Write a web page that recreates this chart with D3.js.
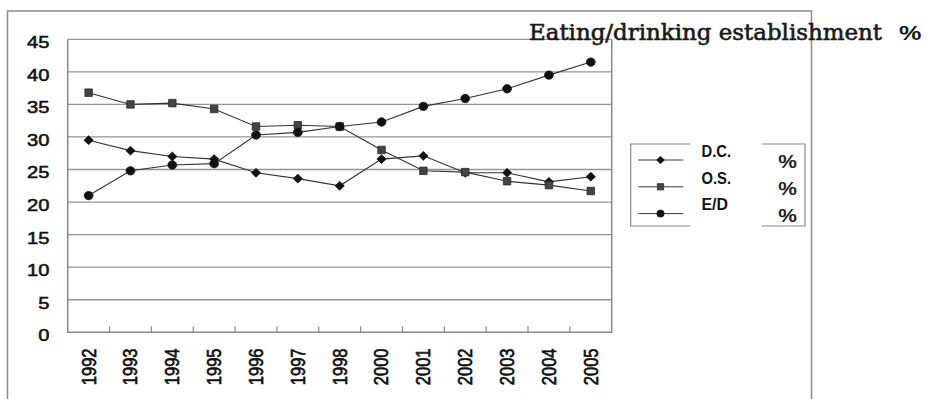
<!DOCTYPE html>
<html>
<head>
<meta charset="utf-8">
<script src="https://cdn.jsdelivr.net/npm/d3@7"></script>
<style>
  html, body { margin: 0; padding: 0; background: #fff; }
  svg { display: block; }
</style>
</head>
<body>
<svg id="chart" width="930" height="399"></svg>
<script>
// Share of establishments by category, 1992–2005 (1999 not surveyed)
const years = ["1992", "1993", "1994", "1995", "1996", "1997", "1998", "2000", "2001", "2002", "2003", "2004", "2005"];
const dcValues = [29.5, 27.9, 27.0, 26.6, 24.5, 23.6, 22.5, 26.6, 27.1, 24.5, 24.5, 23.1, 23.9];
const osValues = [36.8, 35.0, 35.2, 34.3, 31.6, 31.8, 31.6, 28.0, 24.8, 24.6, 23.2, 22.6, 21.7];
const edValues = [21.0, 24.8, 25.7, 25.9, 30.3, 30.7, 31.6, 32.3, 34.7, 35.9, 37.4, 39.5, 41.5];
const yTicks = [0, 5, 10, 15, 20, 25, 30, 35, 40, 45];
const seriesNames = ["D.C.", "O.S.", "E/D"];
const seriesShapes = ["diamond", "square", "circle"];
const titleText = "Eating/drinking establishment";
const unitText = "%";

const series = seriesNames.map((name, i) => ({
  name,
  shape: seriesShapes[i],
  values: [dcValues, osValues, edValues][i]
}));

const svg = d3.select("#chart");
const SX = 1.2;               // type is set slightly wide
const sansFont = "'Liberation Sans', Arial, sans-serif";
const plot = { left: 67.7, top: 39.3, right: 611.7, bottom: 332.3 };

const x = d3.scaleBand().domain(years).range([plot.left, plot.right]).paddingInner(0).paddingOuter(0);
const y = d3.scaleLinear().domain([0, 45]).range([plot.bottom, plot.top]);
const cx = d => x(d) + x.bandwidth() / 2;

// marker outlines centred on the origin
function markerPath(shape, s) {
  if (shape === "diamond") {
    return `M0,${-s}L${s * 1.05},0L0,${s}L${-s * 1.05},0Z`;
  }
  if (shape === "square") {
    const h = s * 0.85;
    return `M${-h},${-h}H${h}V${h}H${-h}Z`;
  }
  return `M${-s},0A${s},${s * 0.95} 0 1,0 ${s},0A${s},${s * 0.95} 0 1,0 ${-s},0Z`;
}
const markerFill = { diamond: "#111", square: "#444", circle: "#111" };
const markerStroke = { diamond: "#111", square: "#2a2a2a", circle: "#111" };

// outer frame
svg.append("path")
  .attr("d", "M7.5,400V11H811.5V400")
  .attr("fill", "none")
  .attr("stroke", "#8c8c8c")
  .attr("stroke-width", 1.5);

// horizontal gridlines
svg.append("g").selectAll("line")
  .data(yTicks.filter(t => t > 0))
  .join("line")
  .attr("x1", plot.left).attr("x2", plot.right)
  .attr("y1", d => y(d)).attr("y2", d => y(d))
  .attr("stroke", "#959595").attr("stroke-width", 1.3);

// plot frame: left, right and base
svg.append("path")
  .attr("d", `M${plot.left},${plot.top}V${plot.bottom}H${plot.right}V${plot.top}`)
  .attr("fill", "none")
  .attr("stroke", "#888")
  .attr("stroke-width", 1.5);

// category divider ticks on the base line, pointing up
svg.append("g").selectAll("line")
  .data(years.slice(1))
  .join("line")
  .attr("x1", d => x(d)).attr("x2", d => x(d))
  .attr("y1", plot.bottom).attr("y2", plot.bottom - 6)
  .attr("stroke", "#888").attr("stroke-width", 1.2);

// y tick labels
svg.append("g").selectAll("text")
  .data(yTicks)
  .join("text")
  .attr("transform", d => `translate(49.5,${y(d) + 3}) scale(${SX},1)`)
  .attr("text-anchor", "end")
  .attr("dy", "0.35em")
  .attr("font-family", sansFont)
  .attr("font-size", 16.8)
  .attr("fill", "#111")
  .attr("stroke", "#111")
  .attr("stroke-width", 0.55)
  .text(d => d);

// x tick labels, rotated
svg.append("g").selectAll("text")
  .data(years)
  .join("text")
  .attr("transform", d => `translate(${cx(d)},348.5) scale(${SX},1) rotate(-90)`)
  .attr("text-anchor", "end")
  .attr("dy", "0.35em")
  .attr("font-family", sansFont)
  .attr("font-size", 16.5)
  .attr("fill", "#111")
  .attr("stroke", "#111")
  .attr("stroke-width", 0.55)
  .text(d => d);

// series lines and markers
const line = d3.line().x((v, i) => cx(years[i])).y(v => y(v));
series.forEach(s => {
  svg.append("path")
    .attr("d", line(s.values))
    .attr("fill", "none")
    .attr("stroke", "#333")
    .attr("stroke-width", 1.1);
});
series.forEach(s => {
  svg.append("g").selectAll("path")
    .data(s.values)
    .join("path")
    .attr("transform", (v, i) => `translate(${cx(years[i])},${y(v)})`)
    .attr("d", markerPath(s.shape, 4.4))
    .attr("fill", markerFill[s.shape])
    .attr("stroke", markerStroke[s.shape])
    .attr("stroke-width", 0.8);
});

// title
svg.append("text")
  .attr("x", 529)
  .attr("y", 39.5)
  .attr("font-family", "'DejaVu Serif', 'Liberation Serif', serif")
  .attr("font-size", 21.5)
  .attr("textLength", 353)
  .attr("lengthAdjust", "spacingAndGlyphs")
  .attr("fill", "#1a1a1a")
  .attr("stroke", "#1a1a1a")
  .attr("stroke-width", 0.6)
  .text(titleText);
svg.append("text")
  .attr("transform", `translate(899,39.8) scale(${SX},1)`)
  .attr("font-family", sansFont)
  .attr("font-weight", "bold")
  .attr("font-size", 21)
  .attr("fill", "#1a1a1a")
  .text(unitText);

// legend
const lg = { left: 630.7, top: 144, right: 805, bottom: 226, gapL: 690.5, gapR: 761.5 };
const legend = svg.append("g");
legend.append("path")
  .attr("d", `M${lg.gapL},${lg.top}H${lg.left}V${lg.bottom}H${lg.gapL}` +
             `M${lg.gapR},${lg.top}H${lg.right}V${lg.bottom}H${lg.gapR}`)
  .attr("fill", "none")
  .attr("stroke", "#8a8a8a")
  .attr("stroke-width", 1.2);

const rowY = i => 160 + i * 26.8;
series.forEach((s, i) => {
  legend.append("line")
    .attr("x1", 638.3).attr("x2", 683.3)
    .attr("y1", rowY(i)).attr("y2", rowY(i))
    .attr("stroke", "#3a3a3a").attr("stroke-width", 1);
  legend.append("path")
    .attr("transform", `translate(660.5,${rowY(i)})`)
    .attr("d", markerPath(s.shape, 3.7))
    .attr("fill", markerFill[s.shape])
    .attr("stroke", markerStroke[s.shape])
    .attr("stroke-width", 0.8);
  legend.append("text")
    .attr("x", 701.5)
    .attr("y", rowY(i) - 3.2)
    .attr("font-family", sansFont)
    .attr("font-weight", "bold")
    .attr("font-size", 16.5)
    .attr("textLength", s.name === "E/D" ? 26.5 : 29.5)
    .attr("lengthAdjust", "spacingAndGlyphs")
    .attr("fill", "#111")
    .text(s.name);
  legend.append("text")
    .attr("transform", `translate(778.3,${rowY(i) + 8.3}) scale(${SX},1)`)
    .attr("font-family", sansFont)
    .attr("font-weight", "bold")
    .attr("font-size", 17.5)
    .attr("fill", "#222")
    .text(unitText);
});
</script>
</body>
</html>
